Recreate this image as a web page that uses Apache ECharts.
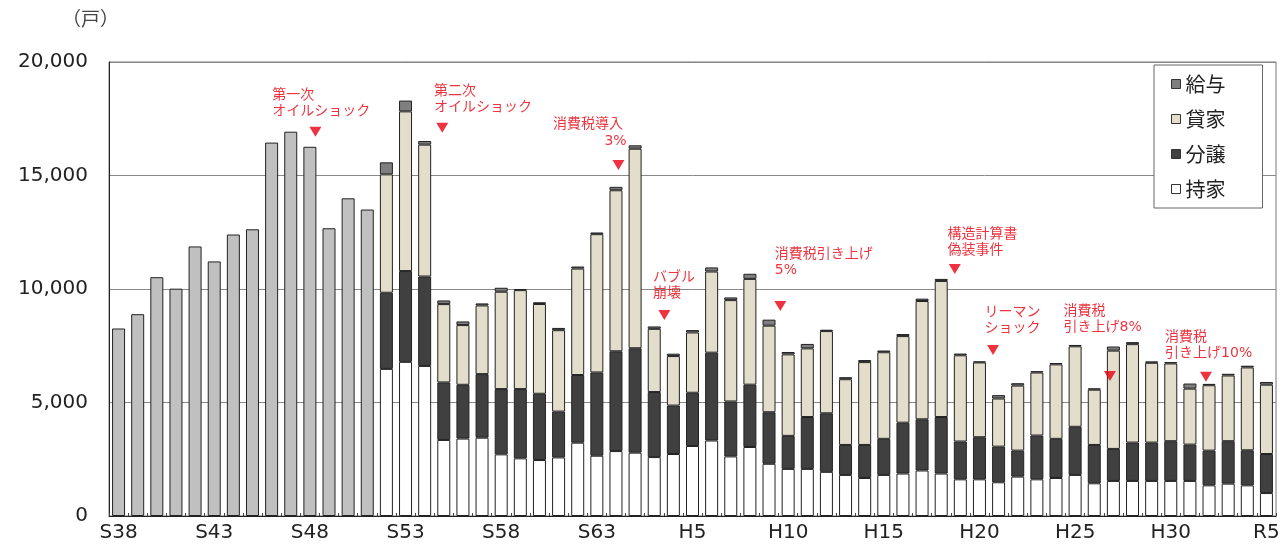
<!DOCTYPE html>
<html><head><meta charset="utf-8">
<script src="https://cdn.jsdelivr.net/npm/echarts@6/dist/echarts.min.js"></script>
<style>html,body{margin:0;padding:0;background:#fff}#c{width:1288px;height:545px}</style>
</head><body><div id="c"></div>
<script>
const categories = ['S38','S39','S40','S41','S42','S43','S44','S45','S46','S47','S48','S49','S50','S51','S52','S53','S54','S55','S56','S57','S58','S59','S60','S61','S62','S63',
'H1','H2','H3','H4','H5','H6','H7','H8','H9','H10','H11','H12','H13','H14','H15','H16','H17','H18','H19','H20',
'H21','H22','H23','H24','H25','H26','H27','H28','H29','H30','R1','R2','R3','R4','R5'];
// S38-S51: totals only
const earlyTotal = [8260,8890,10520,10015,11875,11215,12400,12630,16450,16930,16265,12675,13995,13500];
// S52-R5 by tenure
const mochiie = [6480,6790,6610,3350,3410,3450,2715,2540,2465,2580,3230,2655,
2860,2790,2595,2730,3085,3325,2625,3040,2300,2075,
2075,1945,1810,1675,1810,1870,2005,1870,1615,1615,
1485,1735,1615,1675,1810,1440,1545,1545,1545,1545,
1545,1350,1425,1350,1010];
const bunjo = [3355,4000,3940,2535,2370,2800,2875,3050,2920,2020,2980,3670,
4395,4600,2865,2135,2345,3870,2420,2745,2270,1455,
2285,2580,1320,1455,1590,2240,2255,2490,1665,1855,
1570,1145,1930,1725,2120,1690,1410,1690,1690,1750,
1600,1530,1870,1545,1720];
const kashiya = [5215,7035,5810,3450,2630,3025,4290,4360,3955,3585,4690,6090,
7095,8790,2785,2180,2655,3575,4465,4660,3815,3590,
3025,3620,2895,3650,3815,3815,5210,5995,3800,3295,
2120,2865,2775,3280,3545,2435,4330,4335,3515,3425,
2465,2880,2895,3650,3055];
const kyuyo = [530,475,160,160,160,90,175,50,75,100,90,75,
150,150,105,105,105,180,120,225,265,105,
195,60,90,90,75,90,105,90,75,45,
150,105,60,60,60,60,180,90,60,60,
225,60,75,75,120];
const yTicks = {min:0, max:20000, interval:5000};

// annotations: [text, textX(index), textTopY(value)], triangles: [x(index), y(value)]
const annoTexts = [
  ['第一次\nオイルショック', 8.06, 18854],
  ['第二次\nオイルショック', 16.52, 19044],
  ['消費税導入', 22.74, 17577],
  ['3%', 25.42, 16835],
  ['バブル\n崩壊', 27.96, 10823],
  ['消費税引き上げ\n5%', 34.33, 11850],
  ['構造計算書\n偽装事件', 43.36, 12731],
  ['リーマン\nショック', 45.29, 9295],
  ['消費税\n引き上げ8%', 49.42, 9352],
  ['消費税\n引き上げ10%', 54.73, 8193]
];
const annoTriangles = [[10.29,16930],[16.92,17106],[26.13,15463],[28.53,8855],[34.59,9251],[43.71,10881],[45.71,7313],[51.82,6167],[56.84,6137]];

const pad = n => new Array(n).fill(null);
const nEarly = earlyTotal.length;
const border = {borderColor:'#222', borderWidth:1};
const RED = '#e8000f';
const CJK = '"Noto Sans CJK JP", "Noto Sans", sans-serif';
const MIX = '"DejaVu Sans", "Noto Sans CJK JP", sans-serif';

const chart = echarts.init(document.getElementById('c'), null, {renderer:'canvas'});
const barCommon = {type:'bar', stack:'a', barWidth:13, xAxisIndex:0, yAxisIndex:0};
chart.setOption({
  animation:false,
  textStyle:{fontFamily:'DejaVu Sans'},
  title:{text:'（戸）', left:57, top:4, textStyle:{fontSize:19, fontWeight:'normal', color:'#444', fontFamily:CJK}},
  grid:{left:109, right:12, top:62, bottom:29, show:true, borderColor:'#777', borderWidth:1, backgroundColor:'transparent'},
  legend:{
    data:['給与','貸家','分譲','持家'], orient:'vertical', left:1154, top:65,
    padding:[9,37,9,17], itemGap:15, itemWidth:9, itemHeight:9, icon:'rect',
    backgroundColor:'#fff', borderColor:'#666', borderWidth:1,
    itemStyle:{borderColor:'#333', borderWidth:1},
    textStyle:{fontSize:20, lineHeight:20, color:'#222', fontFamily:CJK}
  },
  xAxis:[{
    type:'category', data:categories, boundaryGap:true,
    axisLine:{lineStyle:{color:'#222', width:1}},
    axisTick:{show:true, inside:true, length:3, interval:0, lineStyle:{color:'#444'}},
    axisLabel:{interval:4, margin:7, fontSize:20, color:'#222', fontFamily:'DejaVu Sans'}
  },{
    type:'value', min:-0.5, max:60.5, show:false
  }],
  yAxis:{
    type:'value', min:yTicks.min, max:yTicks.max, interval:yTicks.interval,
    axisLine:{show:true, onZero:false, lineStyle:{color:'#222'}},
    axisTick:{show:false},
    splitLine:{lineStyle:{color:'#888', width:1}},
    axisLabel:{fontSize:20, margin:21, color:'#222', fontFamily:'DejaVu Sans',
      formatter:v=>v.toLocaleString('en-US')}
  },
  series:[
    Object.assign({}, barCommon, {name:'総数', data:earlyTotal.concat(pad(61-nEarly)), itemStyle:Object.assign({color:'#c0c0c0'}, border)}),
    Object.assign({}, barCommon, {name:'持家', data:pad(nEarly).concat(mochiie), itemStyle:Object.assign({color:'#ffffff'}, border)}),
    Object.assign({}, barCommon, {name:'分譲', data:pad(nEarly).concat(bunjo), itemStyle:Object.assign({color:'#404040'}, border)}),
    Object.assign({}, barCommon, {name:'貸家', data:pad(nEarly).concat(kashiya), itemStyle:Object.assign({color:'#e2decb'}, border)}),
    Object.assign({}, barCommon, {name:'給与', data:pad(nEarly).concat(kyuyo), itemStyle:Object.assign({color:'#7f7f7f'}, border)}),
    {
      type:'scatter', xAxisIndex:1, yAxisIndex:0, symbol:'triangle', symbolRotate:180, symbolSize:[12,10],
      itemStyle:{color:RED}, data:annoTriangles, silent:true, z:5
    },
    {
      type:'scatter', xAxisIndex:1, yAxisIndex:0, symbolSize:1, itemStyle:{color:'rgba(0,0,0,0)'}, silent:true, z:6,
      data:annoTexts.map(a=>({name:a[0], value:[a[1], a[2]]})),
      label:{show:true, position:[0,0], align:'left', verticalAlign:'top', formatter:p=>p.name,
        color:RED, fontSize:14, lineHeight:16, fontFamily:MIX}
    }
  ]
});
</script></body></html>
